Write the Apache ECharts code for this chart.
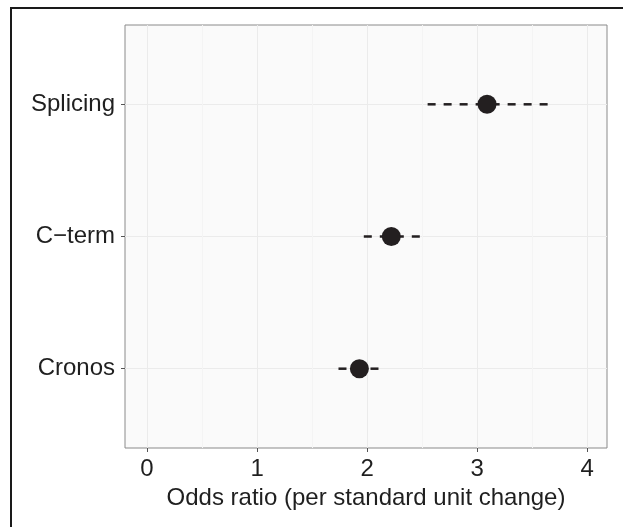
<!DOCTYPE html>
<html>
<head>
<meta charset="utf-8">
<script src="https://cdn.jsdelivr.net/npm/echarts@6/dist/echarts.min.js"></script>
<style>
  html, body { margin: 0; padding: 0; background: #fff; }
  #chart { width: 623px; height: 527px; }
</style>
</head>
<body>
<div id="chart"></div>
<script>
// data
const categories = ['Cronos', 'C\u2212term', 'Splicing'];
const oddsRatio = [1.93, 2.22, 3.09];
const ciLow = [1.74, 1.97, 2.55];
const ciHigh = [2.11, 2.49, 3.67];
const xTicks = [0, 1, 2, 3, 4];
const xMinorTicks = [0.5, 1.5, 2.5, 3.5];

const ink = '#231f20';
const textColor = '#1f1f1f';
const font = 'Liberation Sans, Arial, sans-serif';

const yPos = categories.map((c, i) => i + 1);

const pointData = oddsRatio.map((v, i) => [v, yPos[i]]);
const barData = ciLow.map((lo, i) => [lo, ciHigh[i], yPos[i]]);

const chart = echarts.init(document.getElementById('chart'), null, {renderer: 'canvas'});

chart.setOption({
    animation: false,
    backgroundColor: '#fff',
    grid: {
        left: 125, right: 16, top: 25, bottom: 79,
        show: true,
        backgroundColor: '#fafafa',
        borderColor: '#8a8a8a',
        borderWidth: 1
    },
    graphic: [{
        type: 'rect',
        shape: {x: 11, y: 8, width: 700, height: 600},
        style: {fill: 'none', stroke: '#1a1a1a', lineWidth: 2},
        silent: true,
        z: 100
    }],
    xAxis: {
        type: 'value',
        min: -0.2,
        max: 4.18,
        name: 'Odds ratio (per standard unit change)',
        nameLocation: 'middle',
        nameGap: 38,
        nameTextStyle: {fontFamily: font, fontSize: 24, color: textColor},
        axisLine: {show: false, onZero: false},
        axisTick: {show: true, length: 4, customValues: xTicks, lineStyle: {color: '#555'}},
        axisLabel: {
            customValues: xTicks,
            margin: 9,
            fontFamily: font, fontSize: 24, color: textColor
        },
        splitLine: {show: true, lineStyle: {color: '#ebebeb', width: 1}}
    },
    yAxis: {
        type: 'value',
        min: 0.4,
        max: 3.6,
        axisLine: {show: false, onZero: false},
        axisTick: {show: true, length: 4, customValues: yPos, lineStyle: {color: '#555'}},
        axisLabel: {
            customValues: yPos,
            margin: 10,
            fontFamily: font, fontSize: 24, color: textColor,
            formatter: v => categories[Math.round(v) - 1] || ''
        },
        splitLine: {show: true, lineStyle: {color: '#ebebeb', width: 1}}
    },
    series: [
        {
            // minor grid lines at half units
            type: 'line',
            data: [],
            silent: true,
            markLine: {
                silent: true,
                symbol: 'none',
                label: {show: false},
                lineStyle: {color: '#f4f4f4', width: 1, type: 'solid'},
                data: xMinorTicks.map(v => ({xAxis: v}))
            },
            z: 0
        },
        {
            type: 'custom',
            data: barData,
            renderItem: (params, api) => {
                const a = api.coord([api.value(0), api.value(2)]);
                const b = api.coord([api.value(1), api.value(2)]);
                return {
                    type: 'line',
                    shape: {x1: a[0], y1: a[1], x2: b[0], y2: b[1]},
                    style: {stroke: ink, lineWidth: 2.5, lineDash: [8, 8], lineCap: 'butt'}
                };
            },
            z: 2
        },
        {
            type: 'scatter',
            data: pointData,
            symbol: 'circle',
            symbolSize: 19,
            itemStyle: {color: ink, opacity: 1},
            z: 3
        }
    ]
});
</script>
</body>
</html>
